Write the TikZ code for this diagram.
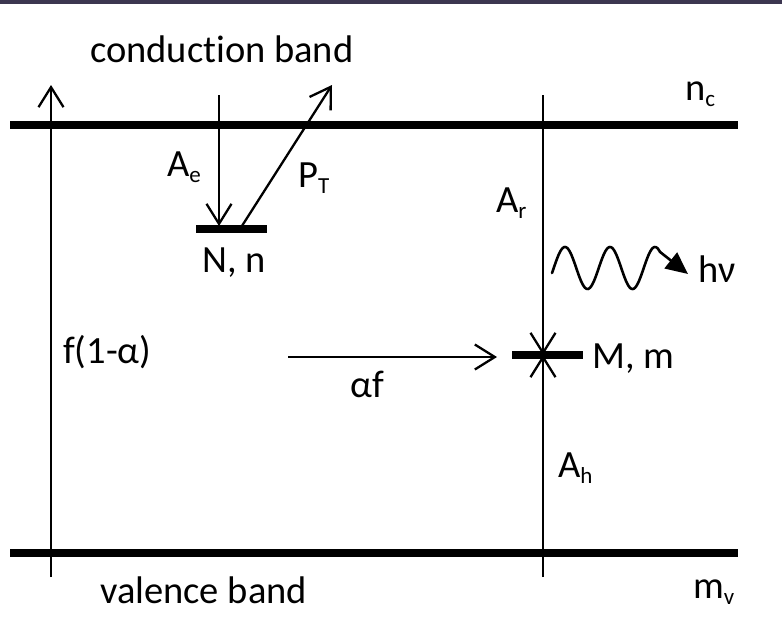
\documentclass[tikz,border=0pt]{standalone}
\usepackage{fontspec}
\setmainfont[Ligatures={NoCommon,NoDiscretionary,NoRare}]{Carlito}
\usetikzlibrary{arrows.meta}
\newcommand{\lowsub}[1]{\raisebox{-6pt}{\fontsize{23}{24}\selectfont #1}}
\begin{document}
\begin{tikzpicture}[x=1pt,y=-1pt,
  band/.style={line width=8pt},
  levelbar/.style={line width=8pt},
  thinline/.style={line width=2.3pt},
  barb/.style={thinline,-{Straight Barb[length=20pt,width=25pt]}},
  lbl/.style={inner sep=0pt,anchor=base west,font=\fontsize{38.5}{40}\selectfont},
]
\useasboundingbox (0,0) rectangle (782,637);
\fill[fill={rgb,255:red,60;green,54;blue,80}] (0,0) rectangle (782,4);

% coordinates
\coordinate (cbL) at (10,125);
\coordinate (cbR) at (738,125);
\coordinate (vbL) at (10,553);
\coordinate (vbR) at (738,553);
\coordinate (leftBot) at (51,577);
\coordinate (leftTop) at (51,85);
\coordinate (rTop) at (543,95);
\coordinate (rBot) at (543,577);
\coordinate (Mc) at (543,355);
\coordinate (ML) at (512,355);
\coordinate (MR) at (583,355);
\coordinate (NL) at (196,229);
\coordinate (NR) at (267,229);
\coordinate (AeTop) at (219,95);
\coordinate (AeTip) at (219,226);
\coordinate (PTstart) at (240,229);
\coordinate (PTtip) at (332,85);
\coordinate (afStart) at (288,357);
\coordinate (afTip) at (497,357);
\coordinate (waveTip) at (688,274);

% bands
\draw[band] (cbL) -- (cbR);
\draw[band] (vbL) -- (vbR);

% levels
\draw[levelbar] (NL) -- (NR);
\draw[levelbar] (ML) -- (MR);

% connectors
\draw[barb] (leftBot) -- (leftTop);
\draw[barb] (rTop) -- (Mc);
\draw[barb] (rBot) -- (Mc);
\draw[barb] (AeTop) -- (AeTip);
\draw[barb] (PTstart) -- (PTtip);
\draw[barb] (afStart) -- (afTip);

% photon wave
\draw[line width=2.6pt,line cap=round,-{Triangle[length=22pt,width=20pt]}]
  plot[domain=552:660,samples=100] (\x,{268-21*sin(8*(\x-553.75))}) -- (waveTip);

% labels
\node[lbl] (cb) at (90,62) {conduction band};
\node[lbl] (vb) at (100,603) {valence band};
\node[lbl] (nc) at (685,100) {n\lowsub{c}};
\node[lbl] (mv) at (693,598) {m\lowsub{v}};
\node[lbl] (Ae) at (167,176) {A\lowsub{e}};
\node[lbl] (PT) at (298,187) {P\lowsub{T}};
\node[lbl] (Nn) at (202,272) {N, n};
\node[lbl] (Ar) at (496,212) {A\lowsub{r}};
\node[lbl] (Mm) at (592,368) {M, m};
\node[lbl] (hv) at (698,282) {hν};
\node[lbl] (f1a) at (63,363) {f(1-α)};
\node[lbl] (af) at (350,397) {αf};
\node[lbl] (Ah) at (558,477) {A\lowsub{h}};
\end{tikzpicture}
\end{document}
